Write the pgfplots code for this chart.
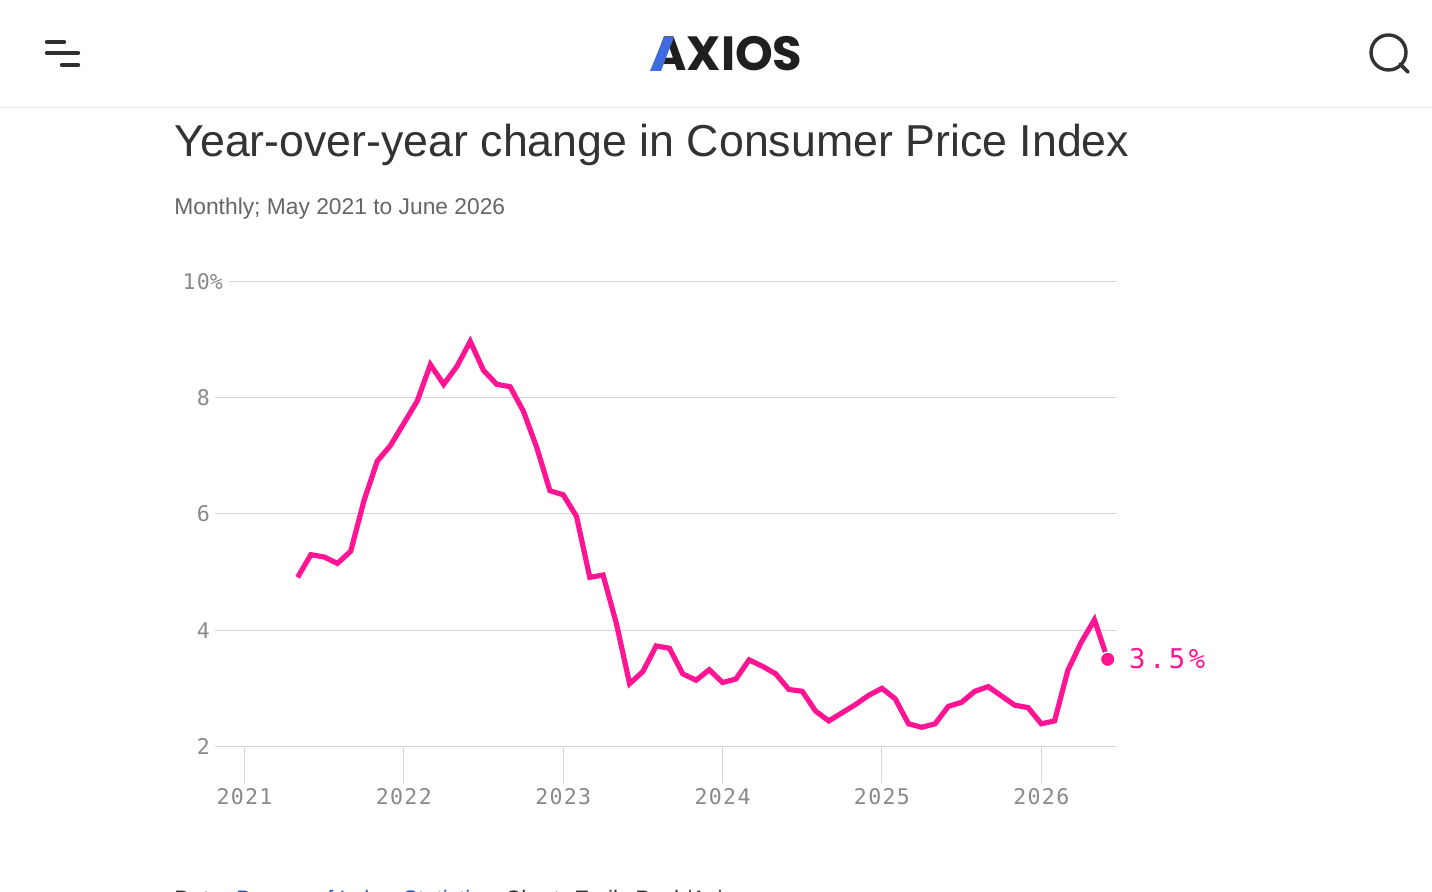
\documentclass[border=0pt]{standalone}
\usepackage{fontspec}
\usepackage{pgfplots}
\pgfplotsset{compat=1.18}
\setmainfont{Liberation Sans}
\newfontfamily\monof[LetterSpace=6]{DejaVu Sans Mono}
\newfontfamily\monolab[LetterSpace=13]{DejaVu Sans Mono}
\newfontfamily\logof{Poppins}
\definecolor{cpipink}{HTML}{FF1493}
\definecolor{gridgray}{HTML}{D6D6D6}
\definecolor{tickgray}{HTML}{8A8A8A}
\definecolor{axblue}{HTML}{3E6CE0}
\definecolor{linkblue}{HTML}{2255CC}
\definecolor{inkdark}{HTML}{333333}
\definecolor{subgray}{HTML}{666666}
% month index: 0 = Jan 2021
\begin{document}
\begin{tikzpicture}[x=1pt,y=1pt]
\path[use as bounding box,fill=white] (0,0) rectangle (716,446);
\begin{axis}[
  at={(107.5pt,72.75pt)}, anchor=south west,
  scale only axis, width=451pt, height=232.5pt,
  xmin=-2.22, xmax=65.70, ymin=2, ymax=10,
  clip=false,
  axis line style={draw=none},
  xtick={0,12,24,36,48,60},
  xticklabels={2021,2022,2023,2024,2025,2026},
  ytick={2,4,6,8},
  yticklabels={2,4,6,8},
  extra y ticks={10},
  extra y tick labels={10\rlap{\%}},
  extra y tick style={ymajorgrids=false},
  ymajorgrids,
  major grid style={gridgray,line width=0.5pt},
  xtick pos=bottom, ytick pos=left,
  tick align=outside,
  x tick style={draw=gridgray,line width=0.5pt},
  y tick style={draw=none},
  major tick length=18.5pt,
  y tick label style={inner sep=0pt,anchor=east,xshift=16.2pt,font=\monof\fontsize{10.8}{12}\selectfont,text=tickgray},
  x tick label style={inner sep=0pt,anchor=north,yshift=-2.5pt,font=\monof\fontsize{10.8}{12}\selectfont,text=tickgray},
]
\draw[gridgray,line width=0.5pt] (axis cs:-1.2,10) -- (axis cs:65.70,10);
\addplot[cpipink,line width=2.6pt,line join=miter] coordinates {
(4,4.91)(5,5.30)(6,5.26)(7,5.15)(8,5.36)(9,6.23)(10,6.91)(11,7.18)
(12,7.56)(13,7.94)(14,8.57)(15,8.23)(16,8.54)(17,8.97)(18,8.47)(19,8.23)(20,8.19)(21,7.77)(22,7.15)(23,6.40)
(24,6.33)(25,5.96)(26,4.91)(27,4.95)(28,4.12)(29,3.08)(30,3.29)(31,3.73)(32,3.69)(33,3.25)(34,3.14)(35,3.32)
(36,3.10)(37,3.16)(38,3.49)(39,3.38)(40,3.25)(41,2.98)(42,2.95)(43,2.61)(44,2.44)(45,2.58)(46,2.72)(47,2.88)
(48,3.00)(49,2.82)(50,2.39)(51,2.33)(52,2.39)(53,2.69)(54,2.76)(55,2.95)(56,3.03)(57,2.87)(58,2.71)(59,2.67)
(60,2.39)(61,2.44)(62,3.31)(63,3.79)(64,4.18)(65,3.50)};
\addplot[only marks,mark=*,mark size=3.6pt,mark options={fill=cpipink,draw=white,line width=0.6pt}]
  coordinates {(65,3.50)}
  node[right,inner sep=0pt,xshift=10.5pt,yshift=0.5pt,text=cpipink,font=\monolab\fontsize{13.6}{15}\selectfont] {3.5\%};
\end{axis}
\begin{scope}[x=0.5pt,y=-0.5pt,shift={(0pt,446pt)}]
% header
\draw[black!8,line width=0.5pt] (0,107.5) -- (1432,107.5);
\draw[inkdark!90!black,line width=2.2pt,line cap=round] (47,42) -- (64,42) (47,53) -- (78,53) (62,65) -- (78,65);
\draw[inkdark,line width=1.7pt] (1388.5,52.5) circle (17.5);
\draw[inkdark,line width=1.9pt,line cap=round] (1400,64) -- (1408,72);
\node[anchor=base west,inner sep=0pt,text=black!88] at (651,71) {\logof\bfseries\fontsize{24}{26}\selectfont AXIOS};
\fill[axblue] (650,71) -- (661,71) -- (674,37) -- (664,37) -- cycle;
% titles
\node[anchor=base west,inner sep=0pt,text=inkdark] at (174,157) {\fontsize{22.35}{26}\selectfont Year-over-year change in Consumer Price Index};
\node[anchor=base west,inner sep=0pt,text=subgray] at (174,215) {\fontsize{11.4}{14}\selectfont Monthly; May 2021 to June 2026};
% source line, cut by the page edge
\node[anchor=base west,inner sep=0pt,text=inkdark] at (174,907) {\fontsize{11.2}{14}\selectfont Data: \textcolor{linkblue}{Bureau of Labor Statistics}; Chart: Emily Peck/Axios};
\end{scope}
\end{tikzpicture}
\end{document}
